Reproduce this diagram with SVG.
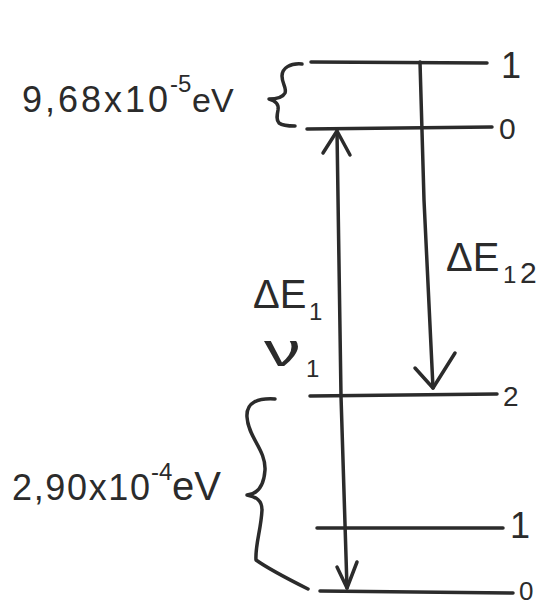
<svg xmlns="http://www.w3.org/2000/svg" width="548" height="607" viewBox="0 0 548 607">
  <style>
    .ln { fill: none; stroke: #2b2b2b; stroke-width: 3.5; stroke-linecap: round; stroke-linejoin: round; }
    .br { fill: none; stroke: #2b2b2b; stroke-width: 3.5; stroke-linecap: round; stroke-linejoin: round; }
    .t { font-family: "Liberation Sans", "DejaVu Sans", sans-serif; fill: #2b2b2b; }
  </style>
  <rect width="548" height="607" fill="#ffffff"/>

  <g id="level-upper-1">
    <path class="ln" d="M311,62 L487,63"/>
    <text class="t" x="501" y="78" font-size="36">1</text>
  </g>
  <g id="level-upper-0">
    <path class="ln" d="M307,129 L492,127"/>
    <text class="t" x="499" y="139" font-size="30">0</text>
  </g>
  <g id="level-lower-2">
    <path class="ln" d="M310,396 L497,394"/>
    <text class="t" x="503" y="406" font-size="28">2</text>
  </g>
  <g id="level-lower-1">
    <path class="ln" d="M317,528 L503,528"/>
    <text class="t" x="510" y="538" font-size="36">1</text>
  </g>
  <g id="level-lower-0">
    <path class="ln" d="M320,591 L513,593"/>
    <text class="t" x="519" y="600" font-size="26">0</text>
  </g>

  <g id="brace-upper">
    <path class="br" d="M302,64 C290,63 282,68 282,76 C282,84 287,88 285,93 C283,97 276,99 269,99 C276,101 279,104 278,110 C277,115 276,120 279,123 C283,126 290,126 295,126"/>
    <text class="t" font-size="36">
      <tspan x="22" y="112" textLength="146" lengthAdjust="spacing">9,68x10</tspan>
      <tspan x="170" y="92" font-size="24">-5</tspan>
      <tspan x="192" y="112" font-size="34">eV</tspan>
    </text>
  </g>

  <g id="brace-lower">
    <path class="br" d="M275,399 C258,398 246,402 247,417 C248,437 266,450 265,470 C264,485 258,494 247,495 C256,497 262,500 262,510 C261,530 255,545 256,560 C270,570 290,580 308,589"/>
    <text class="t" font-size="36">
      <tspan x="12" y="500" textLength="138" lengthAdjust="spacing">2,90x10</tspan>
      <tspan x="151" y="480" font-size="24">-4</tspan>
      <tspan x="172" y="500" font-size="40">eV</tspan>
    </text>
  </g>

  <g id="connectors">
    <g id="arrow-dE12">
      <path class="ln" d="M420,62 L424,200 L433,388"/>
      <path class="ln" d="M415,368 L433,388 L455,353"/>
    </g>
    <g id="arrow-dE1">
      <path class="ln" d="M337,131 L341,396 L347,588"/>
      <path class="ln" d="M323,153 L337,131 L350,155"/>
      <path class="ln" d="M337,567 L347,588 L357,562"/>
    </g>
  </g>

  <g id="label-dE1">
    <text class="t" font-size="40">
      <tspan x="253" y="308">ΔE</tspan>
      <tspan x="309" y="320" font-size="24">1</tspan>
    </text>
  </g>
  <g id="label-nu1">
    <text class="t" font-size="46" transform="translate(264,366) scale(1.6,1)">ν</text>
    <text class="t" x="306" y="377" font-size="24">1</text>
  </g>
  <g id="label-dE12">
    <text class="t" font-size="40">
      <tspan x="446" y="271">ΔE</tspan>
      <tspan x="503" y="283" font-size="24">1</tspan>
      <tspan x="520" y="283" font-size="30">2</tspan>
    </text>
  </g>
</svg>
